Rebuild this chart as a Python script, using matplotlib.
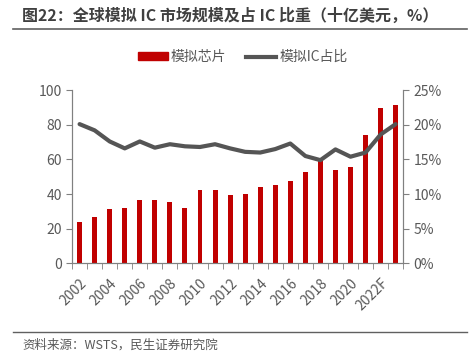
import matplotlib.pyplot as plt
from matplotlib.patches import Patch
from matplotlib.lines import Line2D
import numpy as np

plt.rcParams['font.family'] = ['Noto Sans CJK SC', 'DejaVu Sans']

# 全球模拟IC市场规模（十亿美元）与占IC比重（%）
years = [str(y) for y in range(2002, 2022)] + ["2022F", "2023F"]
market = [24.1, 26.8, 31.2, 31.8, 36.8, 36.4, 35.4, 32.0, 42.4, 42.4, 39.3,
          40.0, 44.1, 45.1, 47.7, 52.9, 59.1, 54.1, 55.4, 74.1, 89.8, 91.2]
share = [20.1, 19.2, 17.6, 16.6, 17.6, 16.7, 17.2, 16.9, 16.8, 17.2, 16.6,
         16.1, 16.0, 16.5, 17.3, 15.5, 14.9, 16.45, 15.4, 16.0, 18.6, 20.1]

red = "#C00000"
dark = "#555555"
axis_c = "#808080"
text_c = "#595959"

fig = plt.figure(figsize=(4.71, 3.55), dpi=100)
ax = fig.add_axes([0.153, 0.258, 0.703, 0.488])
ax2 = ax.twinx()

x = np.arange(len(years))
ax.bar(x, market, width=0.33, color=red, zorder=2)
ax2.plot(x, share, color=dark, linewidth=3, solid_joinstyle="round",
         solid_capstyle="round", zorder=3)

ax.set_xlim(-0.5, len(years) - 0.5)
ax.set_ylim(0, 100)
ax2.set_ylim(0, 25)
ax.set_yticks(range(0, 101, 20))
ax2.set_yticks(range(0, 26, 5))
ax2.set_yticklabels([f"{v}%" for v in range(0, 26, 5)])

ax.set_xticks(x[::2])
ax.set_xticklabels(years[::2], rotation=45, ha="right", rotation_mode="anchor")
ax.set_xticks(np.arange(-0.5, len(years), 1), minor=True)
ax.tick_params(axis="x", which="major", length=0, labelsize=10,
               labelcolor=text_c, pad=9)
ax.tick_params(axis="x", which="minor", length=4, color=axis_c, direction="out")
ax.tick_params(axis="y", length=4, color=axis_c, labelsize=10, labelcolor=text_c)
ax2.tick_params(axis="y", length=4, color=axis_c, labelsize=10, labelcolor=text_c)

for a in (ax, ax2):
    a.spines["top"].set_visible(False)
    for s in ("left", "right", "bottom"):
        a.spines[s].set_color(axis_c)
ax.set_zorder(ax2.get_zorder() - 1)
ax2.patch.set_visible(False)

handles = [Patch(color=red), Line2D([0], [0], color=dark, linewidth=3)]
fig.legend(handles, ["模拟芯片", "模拟IC占比"], loc="center",
           bbox_to_anchor=(0.515, 0.839), ncol=2, frameon=False,
           fontsize=10, handlelength=2.2, handleheight=0.5,
           handletextpad=0.2, columnspacing=1.4, labelcolor=text_c)

fig.text(0.047, 0.955, "图22：全球模拟 IC 市场规模及占 IC 比重（十亿美元，%）",
         fontsize=11.5, fontweight="bold", color="#404040", va="center")
fig.add_artist(Line2D([0.028, 0.992], [0.918, 0.918], color="#606060", linewidth=1.2))
fig.add_artist(Line2D([0.028, 0.992], [0.065, 0.065], color="#606060", linewidth=1.0))
fig.text(0.047, 0.028, "资料来源：WSTS，民生证券研究院", fontsize=9,
         color=text_c, va="center")

fig.savefig("out.png", dpi=100)
